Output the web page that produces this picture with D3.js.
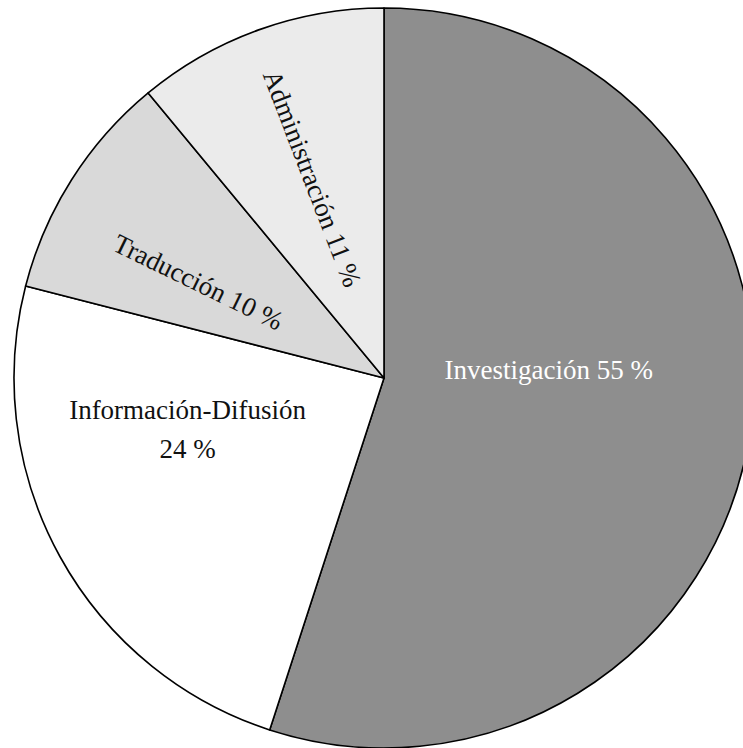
<!DOCTYPE html>
<html>
<head>
<meta charset="utf-8">
<script src="https://cdn.jsdelivr.net/npm/d3@7"></script>
<style>
  html, body { margin: 0; padding: 0; background: #fff; }
  svg { display: block; }
  text { font-family: "Liberation Serif", "Times New Roman", serif; }
</style>
</head>
<body>
<svg id="chart" width="743" height="748"></svg>
<script>
// datos
var categorias = ["Investigación", "Información-Difusión", "Traducción", "Administración"];
var porcentajes = [55, 24, 10, 11];
var etiquetas = [["Investigación 55 %"], ["Información-Difusión", "24 %"], ["Traducción 10 %"], ["Administración 11 %"]];

// estilo de cada porción
var colores = ["#8e8e8e", "#ffffff", "#d9d9d9", "#ebebeb"];
var colorTexto = ["#ffffff", "#111111", "#111111", "#111111"];
// posición de las etiquetas (ángulo en grados, radio relativo, giro)
var etqAngulo = [87.2, 255.2, 297.3, 340.2];
var etqRadio = [0.446, 0.549, 0.565, 0.573];
var etqGiro = [0, 0, 26, 69];

var width = 743, height = 748;
var cx = 384, cy = 378, radio = 370;

var svg = d3.select("#chart");
var g = svg.append("g").attr("transform", "translate(" + cx + "," + cy + ")");

var pie = d3.pie().sort(null).value(function(d){ return d; });
var arc = d3.arc().innerRadius(0).outerRadius(radio);

var arcos = pie(porcentajes);

g.selectAll("path")
  .data(arcos)
  .enter().append("path")
    .attr("d", arc)
    .attr("fill", function(d, i){ return colores[i]; })
    .attr("stroke", "#000")
    .attr("stroke-width", 1.6)
    .attr("stroke-linejoin", "round");

var lineas = 39;
g.selectAll("text.etq")
  .data(arcos)
  .enter().append("text")
    .attr("class", "etq")
    .attr("transform", function(d, i){
      var a = etqAngulo[i] * Math.PI / 180, r = etqRadio[i] * radio;
      return "translate(" + (r * Math.sin(a)) + "," + (-r * Math.cos(a)) + ") rotate(" + etqGiro[i] + ")";
    })
    .attr("text-anchor", "middle")
    .attr("font-size", 27)
    .attr("fill", function(d, i){ return colorTexto[i]; })
    .each(function(d, i){
      var t = d3.select(this), n = etiquetas[i].length;
      etiquetas[i].forEach(function(s, k){
        t.append("tspan")
          .attr("x", 0)
          .attr("y", (k - (n - 1) / 2) * lineas + 9)
          .text(s);
      });
    });
</script>
</body>
</html>
